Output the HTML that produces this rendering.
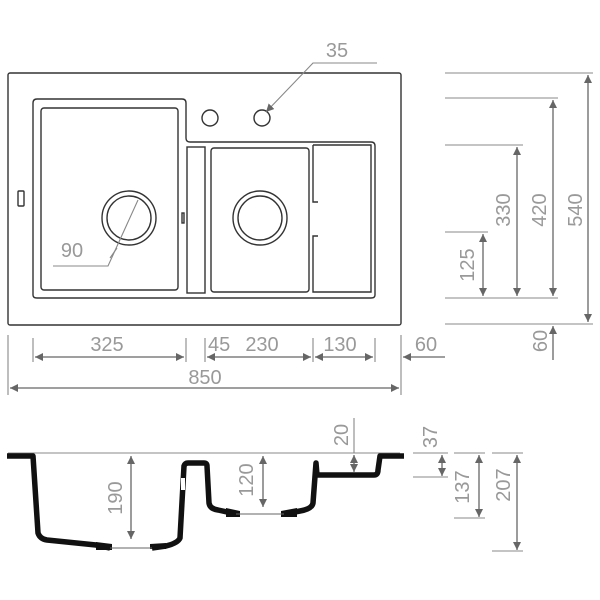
<!DOCTYPE html>
<html><head><meta charset="utf-8"><style>html,body{margin:0;padding:0;background:#fff}svg{display:block}</style></head>
<body>
<svg width="600" height="600" viewBox="0 0 600 600" xmlns="http://www.w3.org/2000/svg" font-family="Liberation Sans, sans-serif">
<defs>
<marker id="a" viewBox="0 0 10 10" refX="10" refY="5" markerWidth="8" markerHeight="8" orient="auto-start-reverse" markerUnits="userSpaceOnUse"><path d="M0,0L10,5L0,10z" fill="#666"/></marker>
</defs>
<g fill="none" stroke="#333" stroke-width="1.4">
<rect x="8" y="73" width="393" height="252" rx="2"/>
<path d="M37,99 H182 Q186,99 186,103 V138 Q186,142 190,142 H371 Q375,142 375,146 V295 Q375,298 371,298 H37 Q33,298 33,295 V103 Q33,99 37,99Z"/>
<rect x="41" y="108" width="137" height="182" rx="3"/>
<rect x="187" y="147" width="18" height="146"/>
<rect x="211" y="148" width="98" height="144" rx="3"/>
<path d="M313,145 H371 V292 H313 V236 H318 M313,145 V202 H318"/>
<circle cx="129" cy="218" r="27"/><circle cx="129" cy="218" r="22"/>
<circle cx="260" cy="218" r="27"/><circle cx="260" cy="218" r="22"/>
<circle cx="210" cy="118" r="8"/><circle cx="262" cy="118" r="8"/>
<rect x="18" y="191" width="6" height="15" rx="1"/>
<rect x="182" y="213" width="2" height="10"/>
</g>
<g stroke="#888" stroke-width="1.1" fill="none">
<path d="M377,63 H313 L266,112" marker-end="url(#a)"/>
<path d="M53,266 H108 L138,200"/>
<path d="M117,248 L110,258"/>
<line x1="445" y1="73" x2="593" y2="73"/>
<line x1="445" y1="98" x2="558" y2="98"/>
<line x1="445" y1="145" x2="523" y2="145"/>
<line x1="445" y1="232" x2="488" y2="232"/>
<line x1="445" y1="298" x2="558" y2="298"/>
<line x1="445" y1="324" x2="593" y2="324"/>
<line x1="8" y1="335" x2="8" y2="395"/>
<line x1="33" y1="338" x2="33" y2="362"/>
<line x1="186" y1="338" x2="186" y2="362"/>
<line x1="205" y1="338" x2="205" y2="362"/>
<line x1="313" y1="338" x2="313" y2="362"/>
<line x1="375" y1="338" x2="375" y2="362"/>
<line x1="401" y1="335" x2="401" y2="395"/>
<line x1="413" y1="453" x2="448" y2="453"/>
<line x1="413" y1="477" x2="448" y2="477"/>
<line x1="454" y1="453" x2="485" y2="453"/>
<line x1="454" y1="518" x2="485" y2="518"/>
<line x1="492" y1="453" x2="523" y2="453"/>
<line x1="492" y1="551" x2="523" y2="551"/>
<line x1="354" y1="418" x2="354" y2="453"/>
</g>
<g stroke="#666" stroke-width="1.3" fill="none">
<line x1="588" y1="75" x2="588" y2="322" marker-start="url(#a)" marker-end="url(#a)"/>
<line x1="553" y1="100" x2="553" y2="296" marker-start="url(#a)" marker-end="url(#a)"/>
<line x1="517" y1="147" x2="517" y2="296" marker-start="url(#a)" marker-end="url(#a)"/>
<line x1="483" y1="234" x2="483" y2="296" marker-start="url(#a)" marker-end="url(#a)"/>
<line x1="553" y1="360" x2="553" y2="326" marker-end="url(#a)"/>
<line x1="35" y1="357" x2="184" y2="357" marker-start="url(#a)" marker-end="url(#a)"/>
<line x1="207" y1="357" x2="311" y2="357" marker-start="url(#a)" marker-end="url(#a)"/>
<line x1="315" y1="357" x2="373" y2="357" marker-start="url(#a)" marker-end="url(#a)"/>
<line x1="445" y1="357" x2="403" y2="357" marker-end="url(#a)"/>
<line x1="10" y1="388" x2="399" y2="388" marker-start="url(#a)" marker-end="url(#a)"/>
<line x1="131" y1="456" x2="131" y2="539" marker-start="url(#a)" marker-end="url(#a)"/>
<line x1="263" y1="456" x2="263" y2="507" marker-start="url(#a)" marker-end="url(#a)"/>
<line x1="354" y1="455" x2="354" y2="472" marker-start="url(#a)" marker-end="url(#a)"/>
<line x1="442" y1="455" x2="442" y2="476" marker-start="url(#a)" marker-end="url(#a)"/>
<line x1="479" y1="455" x2="479" y2="517" marker-start="url(#a)" marker-end="url(#a)"/>
<line x1="517" y1="455" x2="517" y2="550" marker-start="url(#a)" marker-end="url(#a)"/>
</g>
<line x1="8" y1="453" x2="400" y2="453" stroke="#888" stroke-width="1"/>
<g fill="none" stroke="#111" stroke-width="5.5" stroke-linejoin="round">
<path d="M7,456 H33 L38,533 Q40,539 47,540 L96,545 L110,548"/>
<path d="M152,548 L166,546 Q178,543 180,538 L184,466 Q185,463 188,463 H204 Q207,463 207,466 L209,503 Q210,509 218,510 L236,514"/>
<path d="M284,514 L300,511 Q312,509 313,503 L316,463 L317,475 H374 Q378,475 378,470 L380,456 H404"/>
</g>
<g fill="#111">
<path d="M96,542 L112,544 V550 H96Z"/>
<path d="M150,544 L166,543 V549 H150Z"/>
<path d="M226,508 L240,511 V517 H226Z"/>
<path d="M281,511 L297,508 V517 H281Z"/>
</g>
<g stroke="#666" stroke-width="1" fill="none">
<line x1="110" y1="548" x2="152" y2="548"/>
<line x1="236" y1="514" x2="284" y2="514"/>
</g>
<rect x="181" y="478" width="4" height="12" fill="#fff"/>
<g fill="#999" font-size="20">
<text x="337" y="57" text-anchor="middle">35</text>
<text x="72" y="257" text-anchor="middle">90</text>
<text x="107" y="351" text-anchor="middle">325</text>
<text x="208" y="351">45</text>
<text x="262" y="351" text-anchor="middle">230</text>
<text x="340" y="351" text-anchor="middle">130</text>
<text x="426" y="351" text-anchor="middle">60</text>
<text x="205" y="384" text-anchor="middle">850</text>
<g text-anchor="middle">
<text transform="translate(510,210) rotate(-90)">330</text>
<text transform="translate(546,210) rotate(-90)">420</text>
<text transform="translate(582,210) rotate(-90)">540</text>
<text transform="translate(474,265) rotate(-90)">125</text>
<text transform="translate(547,341) rotate(-90)">60</text>
<text transform="translate(348,435) rotate(-90)">20</text>
<text transform="translate(437,437) rotate(-90)">37</text>
<text transform="translate(469,487) rotate(-90)">137</text>
<text transform="translate(510,485) rotate(-90)">207</text>
<text transform="translate(122,498) rotate(-90)">190</text>
<text transform="translate(253,480) rotate(-90)">120</text>
</g>
</g>
</svg>
</body></html>
